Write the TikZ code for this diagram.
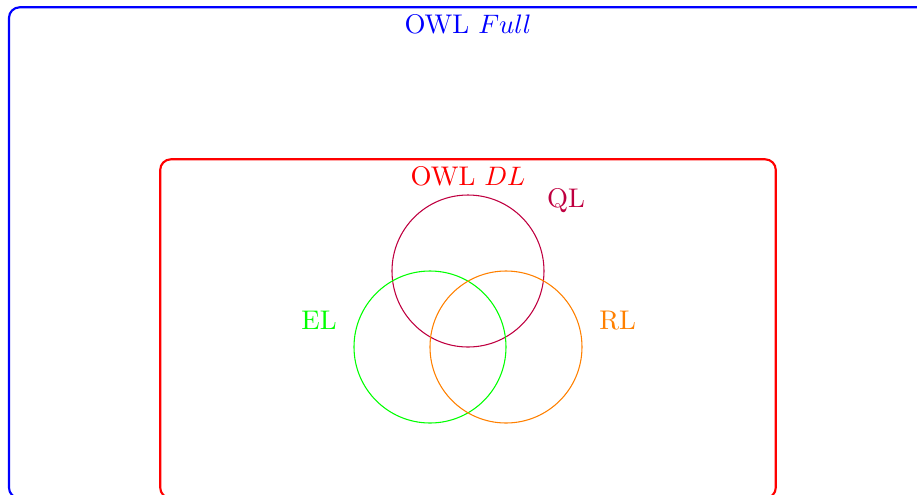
\documentclass[tikz,border=0pt]{standalone}
\usepackage{tikz}
\usetikzlibrary{positioning}

\definecolor{qlcol}{rgb}{0.75,0,0.25}
\definecolor{rlcol}{rgb}{1,0.5,0}

\begin{document}
\begin{tikzpicture}[font=\fontsize{10.1}{12}\selectfont,
  profile/.style={draw, circle, minimum size=2cm, inner sep=0pt}]

\useasboundingbox (-6.158,-2.947) rectangle (5.908,3.566);

% Boxes
\draw[blue, thick, rounded corners] (-6.04,-2.99) rectangle (6.4,3.47);
\draw[red, thick, rounded corners] (-4.05,-2.99) rectangle (4.05,1.47);

\node[blue] (full) at (0,3.24) {OWL $Full$};
\node[red] (dl) at (0,1.24) {OWL $DL$};

% Profiles
\node[profile, qlcol] (ql) at (0,0) {};
\node[profile, green] (el) at (-0.5,-1) {};
\node[profile, rlcol] (rl) at (0.5,-1) {};

\node[qlcol] (qllab) at (1.29,0.93) {QL};
\node[green] (ellab) at (-1.96,-0.65) {EL};
\node[rlcol] (rllab) at (1.97,-0.65) {RL};

\end{tikzpicture}
\end{document}
